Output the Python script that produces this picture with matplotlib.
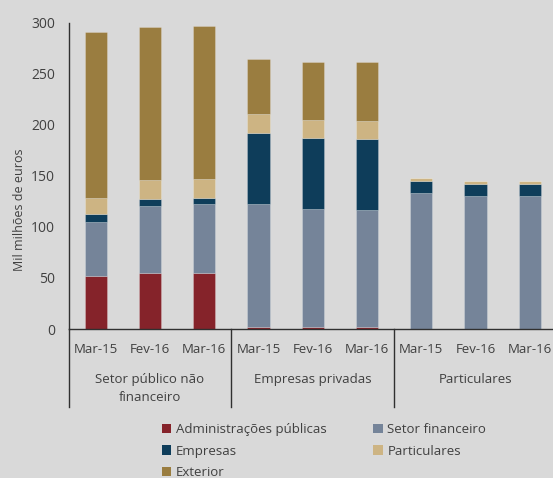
import matplotlib.pyplot as plt
from matplotlib.lines import Line2D
from matplotlib.patches import Patch

plt.rcParams['font.family'] = ['Open Sans', 'DejaVu Sans']

periods = ['Mar-15', 'Fev-16', 'Mar-16'] * 3
groups = ['Setor público não\nfinanceiro', 'Empresas privadas', 'Particulares']

adm_publicas = [52, 55, 55, 2, 2, 2, 0, 0, 0]
setor_fin = [53, 65.5, 67, 120, 115.5, 114.5, 133.5, 130.5, 130.5]
empresas = [7.5, 6.5, 6.5, 70, 69.5, 69.5, 11.5, 11.5, 11.5]
particulares = [15.5, 18.5, 18, 19, 17.5, 18, 2.5, 2.5, 2.5]
exterior = [163, 150.5, 150.5, 53.5, 56.5, 57.5, 0.5, 0.3, 0.3]

series = [
    ('Administrações públicas', adm_publicas, '#85232a'),
    ('Setor financeiro', setor_fin, '#758499'),
    ('Empresas', empresas, '#0e3d5a'),
    ('Particulares', particulares, '#cdb483'),
    ('Exterior', exterior, '#9a7d40'),
]

bg = '#d9d9d9'
txt = '#404040'

fig = plt.figure(figsize=(5.53, 4.78), dpi=100, facecolor=bg)
ax = fig.add_axes([0.1242, 0.3117, 0.8758, 0.641], facecolor=bg)

x = list(range(len(periods)))
bottom = [0] * len(x)
for name, vals, col in series:
    ax.bar(x, vals, bottom=bottom, width=0.41, color=col,
           edgecolor=(1, 1, 1, 0.25), linewidth=0.6, label=name)
    bottom = [b + v for b, v in zip(bottom, vals)]

ax.set_xlim(-0.5, 8.43)
ax.set_ylim(0, 300)
ax.set_yticks(range(0, 301, 50))
ax.tick_params(axis='y', length=0, pad=10, labelsize=10, labelcolor=txt)
ax.set_xticks([])
for s in ['top', 'right']:
    ax.spines[s].set_visible(False)
for s in ['left', 'bottom']:
    ax.spines[s].set_color('#303030')
    ax.spines[s].set_linewidth(1.0)

ax.set_ylabel('Mil milhões de euros', fontsize=9, color=txt)
ax.yaxis.set_label_coords(-0.088, 0.39)

tr = ax.get_xaxis_transform()
for i, p in enumerate(periods):
    ax.text(i, -0.0665, p, transform=tr, ha='center', va='center',
            fontsize=9.5, color=txt)
for g, name in enumerate(groups):
    ax.text(g * 3 + 1, -0.142, name, transform=tr, ha='center', va='top',
            fontsize=9.5, color=txt, linespacing=1.55)
for sx in [-0.5, 2.5, 5.5]:
    ax.add_line(Line2D([sx, sx], [0, -0.254], transform=tr, color='#303030',
                       linewidth=1.0, clip_on=False))

handles = [Patch(facecolor=c, edgecolor='none') for _, _, c in series]
labels = [n for n, _, _ in series]
order = [0, 2, 4, 1, 3]
fig.legend([handles[i] for i in order], [labels[i] for i in order],
           loc='upper left', bbox_to_anchor=(0.293, 0.1155), ncol=2,
           frameon=False, fontsize=9.5, labelcolor=txt,
           handlelength=0.7, handleheight=0.7, handletextpad=0.35,
           columnspacing=3.55, labelspacing=0.67, borderpad=0, borderaxespad=0)

fig.savefig('out.png', dpi=100, facecolor=bg)
